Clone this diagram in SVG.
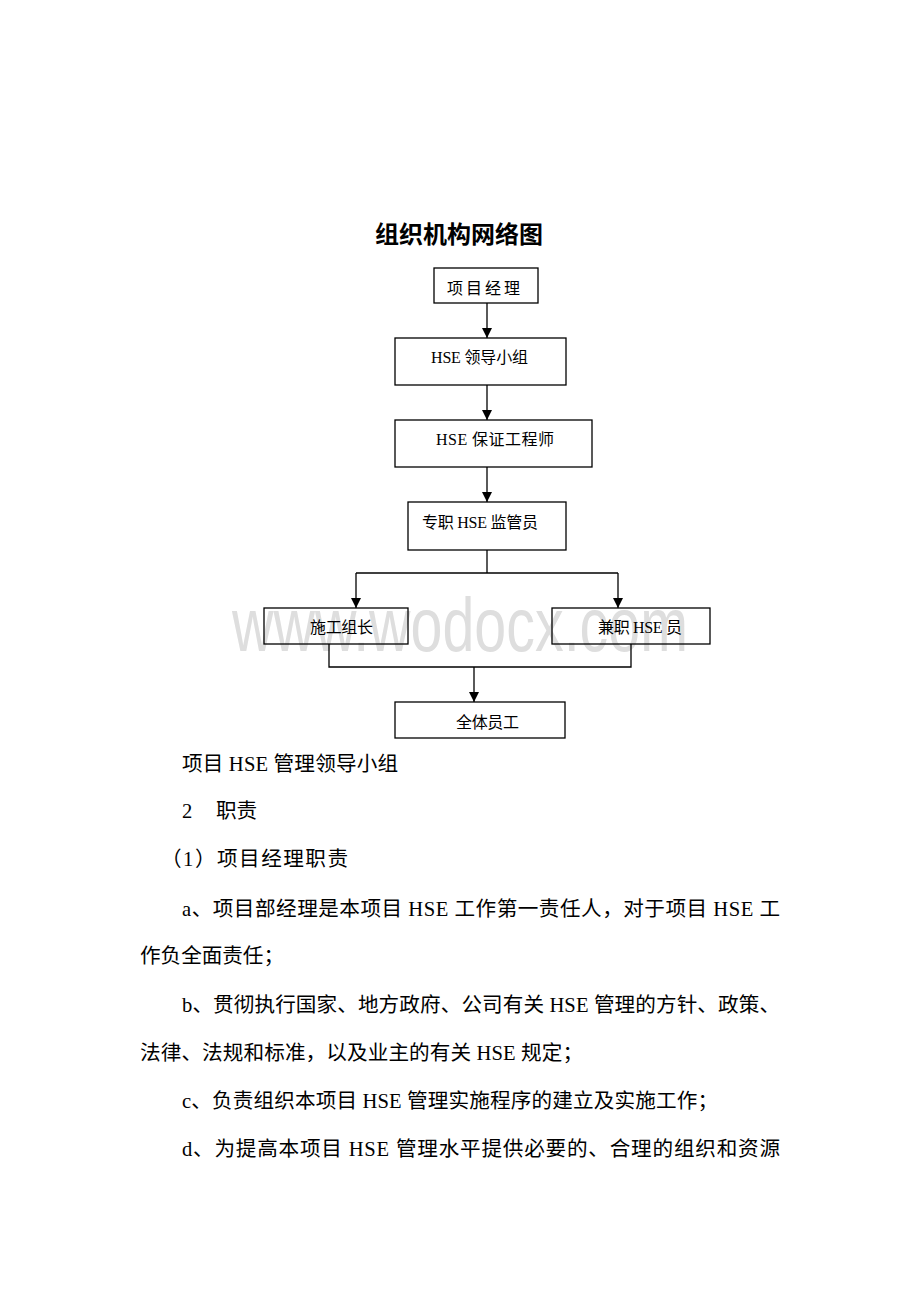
<svg xmlns="http://www.w3.org/2000/svg" width="920" height="1302" viewBox="0 0 920 1302">
<style>
.box{fill:none;stroke:#000;stroke-width:1.3}
.lbl{font-family:"Liberation Serif","Noto Sans CJK SC",serif;font-size:16px;fill:#000}
.body{font-family:"Liberation Serif","Noto Sans CJK SC",serif;font-size:20.6px;fill:#000}
.ln{fill:none;stroke:#000;stroke-width:1.3}
</style>
<defs>
<marker id="ah" viewBox="0 0 10 10" refX="10" refY="5" markerWidth="10" markerHeight="10" markerUnits="userSpaceOnUse" orient="auto">
<path d="M0,0 L10,5 L0,10 Z" fill="#000"/>
</marker>
</defs>
<rect width="920" height="1302" fill="#fff"/>
<text x="232" y="651" font-family="Liberation Sans, Arial, sans-serif" font-size="76" fill="#dedede" textLength="456" lengthAdjust="spacingAndGlyphs">www.wodocx.com</text>
<text x="459" y="243" text-anchor="middle" font-family="'Noto Sans CJK SC',sans-serif" font-size="24" font-weight="bold">组织机构网络图</text>

<g id="connectors">
<line class="ln" x1="487" y1="303" x2="487" y2="338" marker-end="url(#ah)"/>
<line class="ln" x1="487" y1="385" x2="487" y2="420" marker-end="url(#ah)"/>
<line class="ln" x1="487" y1="467" x2="487" y2="502" marker-end="url(#ah)"/>
<polyline class="ln" points="487,550 487,573"/>
<polyline class="ln" points="356,573 618,573"/>
<line class="ln" x1="356" y1="573" x2="356" y2="608" marker-end="url(#ah)"/>
<line class="ln" x1="618" y1="573" x2="618" y2="608" marker-end="url(#ah)"/>
<polyline class="ln" points="329,644 329,667 631,667 631,644"/>
<line class="ln" x1="474" y1="667" x2="474" y2="702" marker-end="url(#ah)"/>
</g>

<g id="n1"><rect class="box" x="434" y="268" width="104" height="35"/><text class="lbl" x="447" y="294" font-size="18" font-family="'Noto Sans CJK SC',sans-serif" textLength="73">项目经理</text></g>
<g id="n2"><rect class="box" x="395" y="338" width="171" height="47"/><text class="lbl" x="431" y="363" textLength="97">HSE 领导小组</text></g>
<g id="n3"><rect class="box" x="395" y="420" width="197" height="47"/><text class="lbl" x="436" y="445" textLength="118">HSE 保证工程师</text></g>
<g id="n4"><rect class="box" x="408" y="502" width="158" height="48"/><text class="lbl" x="422" y="528" textLength="116">专职 HSE 监管员</text></g>
<g id="n5"><rect class="box" x="264" y="608" width="144" height="36"/><text class="lbl" x="310" y="633" textLength="63">施工组长</text></g>
<g id="n6"><rect class="box" x="552" y="608" width="158" height="36"/><text class="lbl" x="598" y="633" textLength="84">兼职 HSE 员</text></g>
<g id="n7"><rect class="box" x="395" y="702" width="170" height="36"/><text class="lbl" x="456" y="728" textLength="63">全体员工</text></g>

<g id="body">
<text class="body" x="182" y="771" textLength="216" lengthAdjust="spacing">项目 HSE 管理领导小组</text>
<text class="body" x="182" y="818">2</text>
<text class="body" x="216" y="818">职责</text>
<text class="body" x="161" y="866" textLength="187" lengthAdjust="spacing">（1）项目经理职责</text>
<text class="body" x="182" y="916" textLength="598" lengthAdjust="spacing">a、项目部经理是本项目 HSE 工作第一责任人，对于项目 HSE 工</text>
<text class="body" x="140" y="963" textLength="144" lengthAdjust="spacing">作负全面责任；</text>
<text class="body" x="182" y="1012" textLength="598" lengthAdjust="spacing">b、贯彻执行国家、地方政府、公司有关 HSE 管理的方针、政策、</text>
<text class="body" x="140" y="1060" textLength="443" lengthAdjust="spacing">法律、法规和标准，以及业主的有关 HSE 规定；</text>
<text class="body" x="182" y="1108" textLength="536" lengthAdjust="spacing">c、负责组织本项目 HSE 管理实施程序的建立及实施工作；</text>
<text class="body" x="182" y="1156" textLength="598" lengthAdjust="spacing">d、为提高本项目 HSE 管理水平提供必要的、合理的组织和资源</text>
</g>
</svg>
